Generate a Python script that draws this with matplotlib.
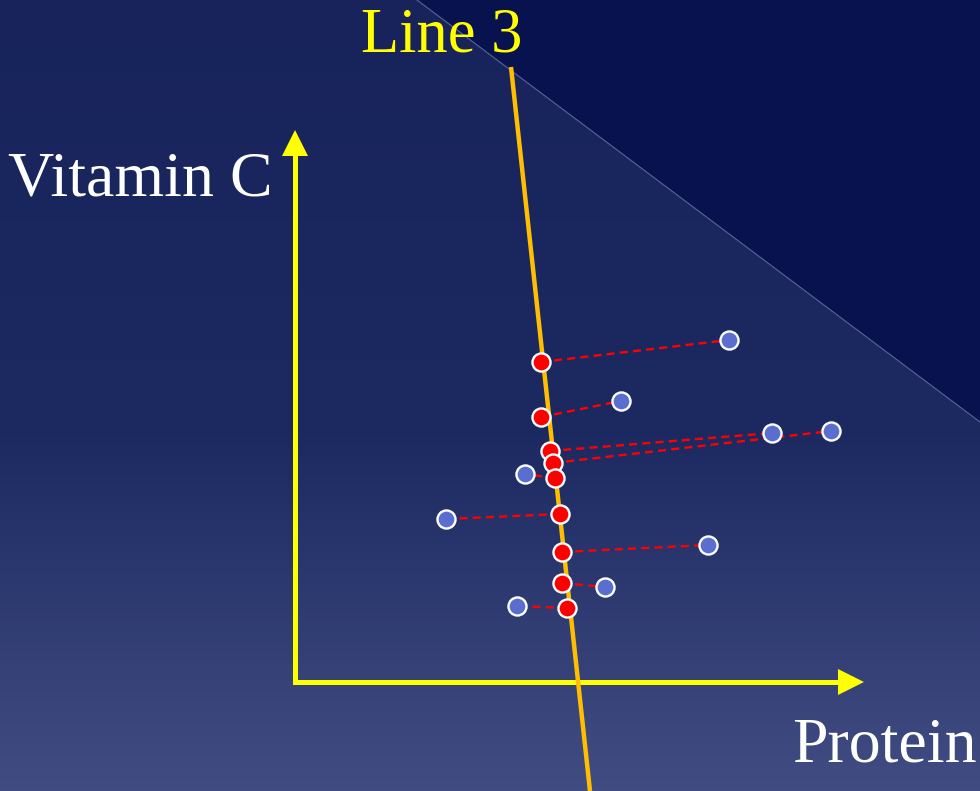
import numpy as np
import matplotlib
matplotlib.use('Agg')
import matplotlib.pyplot as plt
from matplotlib.colors import LinearSegmentedColormap
from matplotlib.patches import Polygon

# positions in the diagram plane (pixel-like units, y grows downward)
blue_x = [729, 621, 772, 831, 525, 446, 708, 605, 517]
blue_y = [340, 401, 433, 431, 474, 519, 545, 587, 606]
red_x = [541, 541, 550, 553, 555, 560, 562, 562, 567]
red_y = [362, 417, 451, 463, 478, 514, 552, 583, 608]

line3_x = [511, 590]
line3_y = [67, 791]

origin = (295, 682)
y_tip = 130
x_tip = 864

W, H = 980, 791
fig = plt.figure(figsize=(9.8, 7.91), dpi=100)
ax = fig.add_axes([0, 0, 1, 1])
ax.set_xlim(0, W)
ax.set_ylim(H, 0)
ax.axis('off')

# background gradient
bg = LinearSegmentedColormap.from_list('bg', [(0, '#17235a'), (0.55, '#1d2a62'), (1, '#414d82')])
grad = np.linspace(0, 1, 256).reshape(-1, 1)
ax.imshow(grad, cmap=bg, extent=[0, W, H, 0], aspect='auto', zorder=0)

# darker top-right corner
ax.add_patch(Polygon([[417, 0], [W, 0], [W, 422]], closed=True, facecolor='#07124f',
                     edgecolor='none', zorder=1))
ax.plot([417, W], [0, 422], color='#5a6498', lw=0.8, zorder=1.5)

# axes with arrow heads
ox, oy = origin
hl, hw = 26, 13
ax.plot([ox, ox, x_tip - hl + 2], [y_tip + hl - 2, oy, oy], color='#ffff00', lw=3.6,
        solid_joinstyle='miter', solid_capstyle='butt', zorder=2)
ax.add_patch(Polygon([[ox, y_tip], [ox - hw, y_tip + hl], [ox + hw, y_tip + hl]],
                     facecolor='#ffff00', edgecolor='none', zorder=2))
ax.add_patch(Polygon([[x_tip, oy], [x_tip - hl, oy - hw], [x_tip - hl, oy + hw]],
                     facecolor='#ffff00', edgecolor='none', zorder=2))

# Line 3
ax.plot(line3_x, line3_y, color='#ffbf00', lw=3.2, solid_capstyle='butt', zorder=3)

# projections
for bx, by, rx, ry in zip(blue_x, blue_y, red_x, red_y):
    ax.plot([rx, bx], [ry, by], color='#ff0000', lw=1.7, dashes=(3.4, 2.2), zorder=4)

ax.plot(blue_x, blue_y, 'o', ms=13, mfc='#5a6ecf', mec='white', mew=1.7, zorder=5)
ax.plot(red_x, red_y, 'o', ms=13, mfc='#ff0000', mec='white', mew=1.7, zorder=6)

serif = ['Liberation Serif', 'DejaVu Serif']
ax.text(442, 36, 'Line 3', color='#ffff00', fontsize=45, family=serif, ha='center', va='center', zorder=7)
ax.text(140, 180, 'Vitamin C', color='white', fontsize=46, family=serif, ha='center', va='center', zorder=7)
ax.text(884, 747, 'Protein', color='white', fontsize=46, family=serif, ha='center', va='center', zorder=7)

fig.savefig('out.png', dpi=100)
